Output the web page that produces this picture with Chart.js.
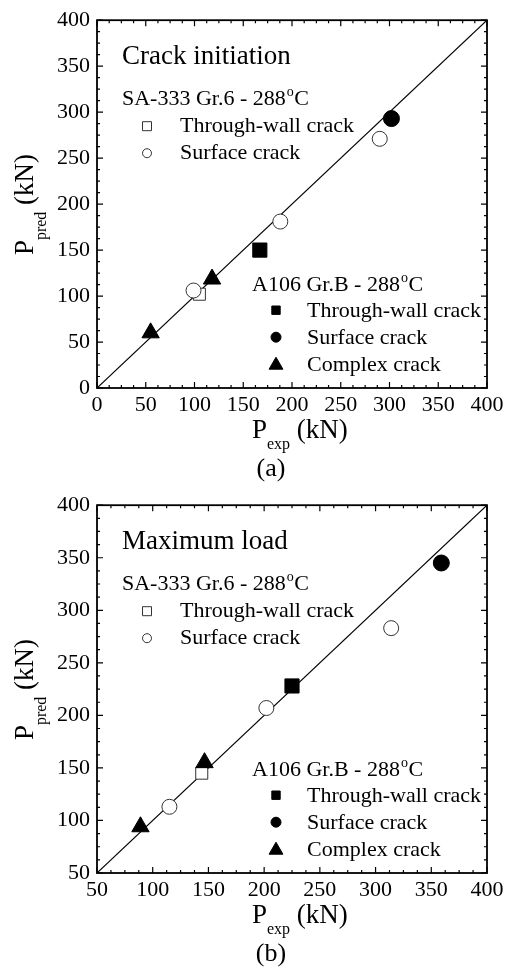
<!DOCTYPE html>
<html>
<head>
<meta charset="utf-8">
<script src="https://cdn.jsdelivr.net/npm/chart.js@4/dist/chart.umd.min.js"></script>
<style>
  html, body { margin: 0; padding: 0; background: #fff; }
  .panel { position: absolute; left: 0; width: 511px; height: 485px; }
</style>
</head>
<body>
<div class="panel" style="top:0"><canvas id="chartA"></canvas></div>
<div class="panel" style="top:485px"><canvas id="chartB"></canvas></div>
<script>
// (a) crack initiation, [Pexp, Ppred] in kN
const diagA = [0, 400];
const saThroughA = [[105, 102]];
const saSurfaceA = [[99, 106], [188, 181], [290, 271]];
const aThroughA = [[167, 150]];
const aSurfaceA = [[302, 293]];
const aComplexA = [[55, 60], [118, 118.5]];

// (b) maximum load
const diagB = [50, 400];
const saThroughB = [[144, 145]];
const saSurfaceB = [[115, 113], [202, 207], [314, 283]];
const aThroughB = [[225, 228]];
const aSurfaceB = [[359, 345]];
const aComplexB = [[89, 94], [146.5, 155]];

const saHeader = "SA-333 Gr.6 - 288";
const aHeader = "A106 Gr.B - 288";
const crackNames = ["Through-wall crack", "Surface crack", "Complex crack"];

const FONT = '"Liberation Serif", "Times New Roman", serif';

function pts(arr) { return arr.map(p => ({ x: p[0], y: p[1] })); }

function marker(ctx, style, filled, x, y, r) {
  ctx.save();
  ctx.beginPath();
  if (style === 'rect') {
    ctx.rect(x - r, y - r, 2 * r, 2 * r);
  } else if (style === 'circle') {
    ctx.arc(x, y, r, 0, Math.PI * 2);
  } else {
    ctx.moveTo(x, y - r);
    ctx.lineTo(x + r * 0.866, y + r * 0.5);
    ctx.lineTo(x - r * 0.866, y + r * 0.5);
    ctx.closePath();
  }
  ctx.fillStyle = filled ? '#000' : '#fff';
  ctx.fill();
  ctx.strokeStyle = filled ? '#000' : '#333';
  ctx.lineWidth = 1;
  ctx.stroke();
  ctx.restore();
}

function degText(ctx, text, x, y, size) {
  ctx.font = size + 'px ' + FONT;
  ctx.fillText(text, x, y);
  const w = ctx.measureText(text).width;
  ctx.font = Math.round(size * 0.62) + 'px ' + FONT;
  ctx.fillText('o', x + w + 1, y - size * 0.4);
  const w2 = ctx.measureText('o').width;
  ctx.font = size + 'px ' + FONT;
  ctx.fillText('C', x + w + w2 + 1.5, y);
}

function subText(ctx, x, y, main, sub, rest, drop) {
  ctx.font = '27px ' + FONT;
  ctx.fillText(main, x, y);
  let cx = x + ctx.measureText(main).width;
  ctx.font = '16px ' + FONT;
  ctx.fillText(sub, cx, y + drop);
  cx += ctx.measureText(sub).width;
  ctx.font = '27px ' + FONT;
  ctx.fillText(rest, cx, y);
}

const deco = {
  id: 'deco',
  afterDraw(chart, args, opts) {
    const ctx = chart.ctx;
    const a = chart.chartArea;
    const sx = chart.scales.x, sy = chart.scales.y;
    ctx.save();
    ctx.strokeStyle = '#000';
    ctx.lineWidth = 1.2;
    // inward ticks on all four sides
    for (let v = sx.min; v <= sx.max + 0.01; v += 12.5) {
      const px = sx.getPixelForValue(v);
      const len = v % 50 === 0 ? 6 : 3;
      ctx.beginPath();
      ctx.moveTo(px, a.bottom); ctx.lineTo(px, a.bottom - len);
      ctx.moveTo(px, a.top); ctx.lineTo(px, a.top + len);
      ctx.stroke();
    }
    for (let v = sy.min; v <= sy.max + 0.01; v += 12.5) {
      const py = sy.getPixelForValue(v);
      const len = v % 50 === 0 ? 6 : 3;
      ctx.beginPath();
      ctx.moveTo(a.left, py); ctx.lineTo(a.left + len, py);
      ctx.moveTo(a.right, py); ctx.lineTo(a.right - len, py);
      ctx.stroke();
    }
    ctx.lineWidth = 1.8;
    ctx.strokeRect(a.left, a.top, a.right - a.left, a.bottom - a.top);

    ctx.fillStyle = '#000';
    ctx.textBaseline = 'alphabetic';
    ctx.textAlign = 'left';
    // panel title
    ctx.font = '27px ' + FONT;
    ctx.fillText(opts.title, a.left + 25, a.top + 44);
    // SA-333 legend group
    degText(ctx, saHeader, a.left + 25, a.top + 85, 22);
    ctx.font = '22px ' + FONT;
    ctx.fillText(crackNames[0], a.left + 83, a.top + 112);
    ctx.fillText(crackNames[1], a.left + 83, a.top + 139);
    marker(ctx, 'rect', false, a.left + 50, a.top + 106, 4.5);
    marker(ctx, 'circle', false, a.left + 50, a.top + 133, 4.5);
    // A106 legend group
    degText(ctx, aHeader, a.left + 155, a.top + 271, 22);
    ctx.font = '22px ' + FONT;
    ctx.fillText(crackNames[0], a.left + 210, a.top + 297);
    ctx.fillText(crackNames[1], a.left + 210, a.top + 324);
    ctx.fillText(crackNames[2], a.left + 210, a.top + 351);
    marker(ctx, 'rect', true, a.left + 179, a.top + 290, 4.2);
    marker(ctx, 'circle', true, a.left + 179, a.top + 317, 5);
    marker(ctx, 'triangle', true, a.left + 179, a.top + 345, 8);

    // axis titles
    const cx = (a.left + a.right) / 2;
    const cy = (a.top + a.bottom) / 2;
    subText(ctx, cx - 40, a.bottom + 50, 'P', 'exp', ' (kN)', 11);
    ctx.save();
    ctx.translate(33, cy + 51);
    ctx.rotate(-Math.PI / 2);
    subText(ctx, 0, 0, 'P', 'pred', ' (kN)', 13);
    ctx.restore();
    ctx.font = '26px ' + FONT;
    ctx.textAlign = 'center';
    ctx.fillText(opts.panel, cx - 21, a.bottom + 88);
    ctx.restore();
  }
};

function makeChart(id, diag, saThrough, saSurface, aThrough, aSurface, aComplex, title, panel) {
  const tickFont = { family: FONT, size: 22 };
  return new Chart(document.getElementById(id), {
    type: 'scatter',
    data: {
      datasets: [
        { type: 'line', data: pts([[diag[0], diag[0]], [diag[1], diag[1]]]), borderColor: '#000', borderWidth: 1.2,
          pointRadius: 0, order: 10 },
        { data: pts(saThrough), pointStyle: 'rect', pointRadius: 8.5, backgroundColor: '#fff', borderColor: '#333',
          borderWidth: 1, order: 5 },
        { data: pts(saSurface), pointStyle: 'circle', pointRadius: 7.5, backgroundColor: '#fff', borderColor: '#333',
          borderWidth: 1, order: 4 },
        { data: pts(aThrough), pointStyle: 'rect', pointRadius: 10, backgroundColor: '#000', borderColor: '#000',
          borderWidth: 1, order: 3 },
        { data: pts(aSurface), pointStyle: 'circle', pointRadius: 8, backgroundColor: '#000', borderColor: '#000',
          borderWidth: 1, order: 2 },
        { data: pts(aComplex), pointStyle: 'triangle', pointRadius: 10, backgroundColor: '#000', borderColor: '#000',
          borderWidth: 1, order: 1 }
      ]
    },
    options: {
      responsive: true,
      maintainAspectRatio: false,
      animation: false,
      layout: { padding: { left: 0, right: 24, top: 16, bottom: 0 } },
      scales: {
        x: {
          type: 'linear', min: diag[0], max: diag[1],
          grid: { display: false, drawTicks: false }, border: { display: false },
          ticks: { stepSize: 50, color: '#000', font: tickFont, padding: 4, autoSkip: false, maxRotation: 0 },
          afterFit: s => { s.height = 97; }
        },
        y: {
          type: 'linear', min: diag[0], max: diag[1],
          grid: { display: false, drawTicks: false }, border: { display: false },
          ticks: { stepSize: 50, color: '#000', font: tickFont, padding: 7 },
          afterFit: s => { s.width = 97; }
        }
      },
      plugins: {
        legend: { display: false },
        tooltip: { enabled: false },
        deco: { title: title, panel: panel }
      }
    },
    plugins: [deco]
  });
}

makeChart('chartA', diagA, saThroughA, saSurfaceA, aThroughA, aSurfaceA, aComplexA, 'Crack initiation', '(a)');
makeChart('chartB', diagB, saThroughB, saSurfaceB, aThroughB, aSurfaceB, aComplexB, 'Maximum load', '(b)');
</script>
</body>
</html>
